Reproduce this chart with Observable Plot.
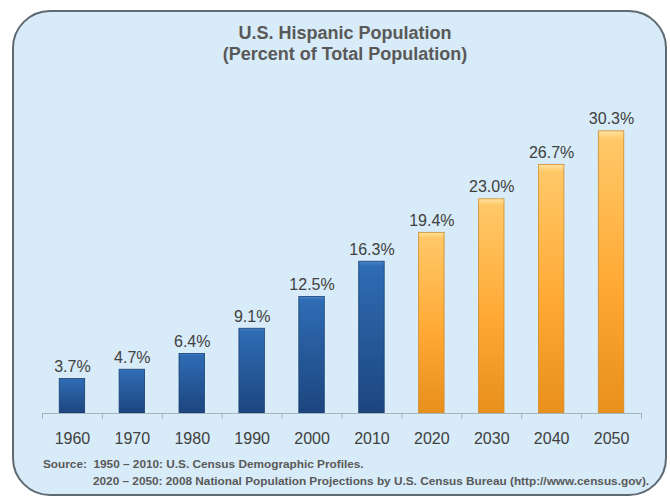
<!DOCTYPE html>
<html>
<head>
<meta charset="utf-8">
<script src="https://cdn.jsdelivr.net/npm/d3@7"></script>
<script src="https://cdn.jsdelivr.net/npm/@observablehq/plot@0.6"></script>
<style>
  body { margin: 0; background: #ffffff; font-family: "Liberation Sans", Arial, sans-serif; }
  #wrap { position: relative; width: 670px; height: 499px; overflow: hidden; }
  #frame { position: absolute; left: 12px; top: 10px; width: 651px; height: 482px;
           border: 2px solid #5f6a72; border-radius: 38px; background: #d7ebf8; }
  #title { position: absolute; left: 0; width: 690px; top: 23px; text-align: center;
           font-weight: bold; font-size: 18px; line-height: 21px; color: #595959; }
  #chart { position: absolute; left: 0; top: 0; }
  .src { position: absolute; font-weight: bold; font-size: 11.8px; color: #595959; white-space: pre; line-height: 14px; }
</style>
</head>
<body>
<div id="wrap">
  <div id="frame"></div>
  <div id="chart"></div>
  <div id="title">U.S. Hispanic Population<br>(Percent of Total Population)</div>
  <div class="src" id="src1" style="left:43px; top:457px;"></div>
  <div class="src" id="src2" style="left:93px; top:474px;"></div>
</div>
<script>
const years = ["1960","1970","1980","1990","2000","2010","2020","2030","2040","2050"];
const values = [3.7, 4.7, 6.4, 9.1, 12.5, 16.3, 19.4, 23.0, 26.7, 30.3];
const kinds = ["census","census","census","census","census","census","projection","projection","projection","projection"];
const sourceLine1 = "Source:  1950 \u2013 2010: U.S. Census Demographic Profiles.";
const sourceLine2 = "2020 \u2013 2050: 2008 National Population Projections by U.S. Census Bureau (http://www.census.gov).";

const data = years.map((y, i) => ({year: y, value: values[i], kind: kinds[i]}));
const census = data.filter(d => d.kind === "census");
const proj = data.filter(d => d.kind === "projection");
const edges = years.map((y, i) => ({year: y, side: -1})).concat([{year: years[years.length - 1], side: 1}]);

const step = (641 - 42) / years.length;

const chart = Plot.plot({
  width: 670,
  height: 499,
  marginLeft: 42,
  marginRight: 29,
  marginTop: 115,
  marginBottom: 86,
  style: {background: "transparent", fontFamily: "'Liberation Sans', Arial, sans-serif"},
  x: {domain: years, paddingInner: 0.575, paddingOuter: 0.2875, align: 0.5, round: false, label: null},
  y: {domain: [0, 32], axis: null},
  marks: [
    Plot.barY(census, {x: "year", y: "value", fill: "url(#gBlue)", stroke: "#1a3f70", strokeWidth: 0.8}),
    Plot.barY(proj, {x: "year", y: "value", fill: "url(#gOrange)", stroke: "#d38a28", strokeWidth: 0.8}),
    Plot.ruleY([0], {stroke: "#a8b4bc", strokeWidth: 1}),
    Plot.ruleX(edges.filter(d => d.side < 0), {x: "year", y1: 0, y2: -0.65, dx: -step / 2, stroke: "#a8b4bc"}),
    Plot.ruleX(edges.filter(d => d.side > 0), {x: "year", y1: 0, y2: -0.65, dx: step / 2, stroke: "#a8b4bc"}),
    Plot.text(data, {x: "year", y: "value", text: d => d.value.toFixed(1) + "%", dy: -7, lineAnchor: "bottom",
      fontSize: 16, fill: "#404040"}),
    Plot.axisX({tickSize: 0, tickPadding: 19, fontSize: 16, color: "#404040", label: null})
  ]
});

const svg = d3.select(chart);
const defs = svg.insert("defs", ":first-child");
const gb = defs.append("linearGradient").attr("id", "gBlue").attr("x1", 0).attr("y1", 0).attr("x2", 0).attr("y2", 1);
gb.append("stop").attr("offset", "0%").attr("stop-color", "#4a86cc");
gb.append("stop").attr("offset", "3%").attr("stop-color", "#2f6cb4");
gb.append("stop").attr("offset", "100%").attr("stop-color", "#1c457e");
const go = defs.append("linearGradient").attr("id", "gOrange").attr("x1", 0).attr("y1", 0).attr("x2", 0).attr("y2", 1);
go.append("stop").attr("offset", "0%").attr("stop-color", "#ffe4a0");
go.append("stop").attr("offset", "3%").attr("stop-color", "#ffc868");
go.append("stop").attr("offset", "55%").attr("stop-color", "#ffa934");
go.append("stop").attr("offset", "100%").attr("stop-color", "#e88f1c");

document.getElementById("chart").appendChild(chart);
document.getElementById("src1").textContent = sourceLine1;
document.getElementById("src2").textContent = sourceLine2;
</script>
</body>
</html>
